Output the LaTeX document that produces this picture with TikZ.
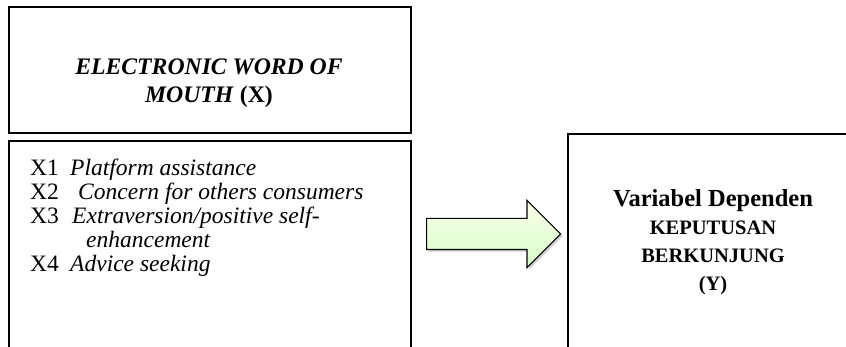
\documentclass[tikz,border=0pt]{standalone}
\usepackage{fontspec}
\setmainfont{Liberation Serif}
\usetikzlibrary{shapes.arrows,shadows,positioning}

\begin{document}
\begin{tikzpicture}[x=1pt,y=-1pt,
  frame/.style={draw, line width=2pt, inner sep=0pt, outer sep=0pt},
  txt/.style={inner sep=0pt, align=center}]
\useasboundingbox (0,0) rectangle (846,347);
\node[frame, minimum width=402pt, minimum height=126pt] (varx) at (210,70) {};
\node[frame, minimum width=402pt, minimum height=260pt, anchor=north west] (dimx) at (9,141) {};
\node[frame, minimum width=290pt, minimum height=260pt, anchor=north west] (vary) at (568,134) {};
\node[txt, font=\fontsize{23.7}{28}\selectfont\bfseries\itshape] (xtitle) at (209,83.5) {ELECTRONIC WORD OF\\MOUTH \textup{(X)}};
\node[inner sep=0pt, align=left, anchor=north west, font=\fontsize{23.5}{24}\selectfont] (xlist) at (30,158.3) {X1\hspace*{11.3pt}\textit{Platform assistance}\\
X2\hspace*{19.3pt}\textit{Concern for others consumers}\\
X3\hspace*{13.3pt}\textit{Extraversion/positive self-}\\
\hspace*{56pt}\textit{enhancement}\\
X4\hspace*{11.3pt}\textit{Advice seeking}};
\node[single arrow, draw, line width=1.2pt, minimum height=134pt, inner xsep=0pt, inner ysep=15pt,
  single arrow head extend=18pt, top color=green!8!lime!10!white, bottom color=lime!35!green!20!white,
  drop shadow={shadow xshift=2pt, shadow yshift=-2pt, opacity=0.4}, anchor=tail] (flow) at (426,234) {};
\node[txt, anchor=north, font=\fontsize{20.5}{28}\selectfont\bfseries] (ytitle) at (713,189.3) {{\fontsize{24.5}{28}\selectfont Variabel Dependen}\\KEPUTUSAN\\BERKUNJUNG\\(Y)};
\end{tikzpicture}
\end{document}
